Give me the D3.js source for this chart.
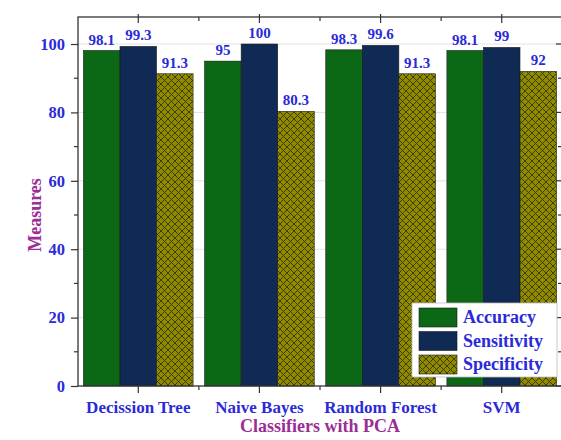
<!DOCTYPE html>
<html><head><meta charset="utf-8">
<script src="https://cdn.jsdelivr.net/npm/d3@7"></script>
<style>body{margin:0;background:#fff}svg{display:block}</style>
</head><body>
<svg id="chart" width="561" height="440"></svg>
<script>
const categories = ["Decission Tree","Naive Bayes","Random Forest","SVM"];
const seriesNames = ["Accuracy","Sensitivity","Specificity"];
const accuracy = [98.1, 95, 98.3, 98.1];
const sensitivity = [99.3, 100, 99.6, 99];
const specificity = [91.3, 80.3, 91.3, 92];
const yTicks = [0,20,40,60,80,100];
const valueLabels = [
  ["98.1","95","98.3","98.1"],
  ["99.3","100","99.6","99"],
  ["91.3","80.3","91.3","92"]
];
const seriesValues = [accuracy, sensitivity, specificity];

const svg = d3.select("#chart");
const L = 78, R = 562, T = 17, B = 386;
const blue = "#2a2ad8", purple = "#9a2d96";
const fills = ["url(#pGreen)","url(#pNavy)","url(#pOlive)"];
const FF = "Liberation Serif";

const defs = svg.append("defs");
function pat(id, bg, dot){
  const p = defs.append("pattern").attr("id",id).attr("patternUnits","userSpaceOnUse")
    .attr("width",4).attr("height",4);
  p.append("rect").attr("width",4).attr("height",4).attr("fill",bg);
  p.append("rect").attr("x",0).attr("y",0).attr("width",1).attr("height",1).attr("fill",dot);
  p.append("rect").attr("x",2).attr("y",2).attr("width",1).attr("height",1).attr("fill",dot);
  return p;
}
pat("pGreen","#0c6a16","#0a5a12");
pat("pNavy","#102b55","#0c2246");
const po = defs.append("pattern").attr("id","pOlive").attr("patternUnits","userSpaceOnUse").attr("width",7).attr("height",7);
po.append("rect").attr("width",7).attr("height",7).attr("fill","#8f8b00");
po.append("path").attr("d","M0,0L7,7M7,0L0,7").attr("stroke","#3a3600").attr("stroke-width",0.9).attr("fill","none");

const x0 = d3.scaleBand().domain(categories).range([L,R]).paddingInner(0.095).paddingOuter(0.045);
const x1 = d3.scaleBand().domain(seriesNames).range([0,x0.bandwidth()]);
const y = d3.scaleLinear().domain([0,107.9]).range([B,T]);

// grid
svg.append("g").selectAll("line").data(yTicks.filter(d=>d>0)).join("line")
  .attr("x1",L).attr("x2",R).attr("y1",d=>y(d)).attr("y2",d=>y(d))
  .attr("stroke","#e2e2e2").attr("stroke-width",1);

// bars
const g = svg.append("g");
seriesNames.forEach((s,si)=>{
  g.selectAll(null).data(categories).join("rect")
    .attr("x",c=>x0(c)+x1(s)).attr("width",x1.bandwidth())
    .attr("y",(c,i)=>y(seriesValues[si][i])).attr("height",(c,i)=>B-y(seriesValues[si][i]))
    .attr("fill",fills[si]).attr("stroke","#1a1a1a").attr("stroke-width",0.6);
  g.selectAll(null).data(categories).join("text")
    .attr("x",c=>x0(c)+x1(s)+x1.bandwidth()/2)
    .attr("y",(c,i)=>y(seriesValues[si][i])-6)
    .attr("text-anchor","middle").attr("font-family",FF).attr("font-weight","bold")
    .attr("font-size",15).attr("fill",blue).text((c,i)=>valueLabels[si][i]);
});

// frame
svg.append("rect").attr("x",L).attr("y",T).attr("width",R-L).attr("height",B-T)
  .attr("fill","none").attr("stroke","#333").attr("stroke-width",1.3);

// left axis
const yAxis = d3.axisLeft(y).tickValues(yTicks).tickSize(7).tickPadding(6);
const ya = svg.append("g").attr("transform",`translate(${L},0)`).call(yAxis);
ya.select(".domain").remove();
ya.selectAll("line").attr("stroke","#333").attr("stroke-width",1.2);
ya.selectAll("text").attr("font-family",FF).attr("font-weight","bold").attr("font-size",16.5).attr("fill",blue);
const minorY = [10,30,50,70,90];
svg.append("g").selectAll("line").data(minorY).join("line")
  .attr("x1",L-4).attr("x2",L).attr("y1",d=>y(d)).attr("y2",d=>y(d)).attr("stroke","#333").attr("stroke-width",1.2);
// right axis ticks inward
svg.append("g").selectAll("line").data(yTicks.concat(minorY)).join("line")
  .attr("x1",d=>R-(yTicks.includes(d)?6:4)).attr("x2",R).attr("y1",d=>y(d)).attr("y2",d=>y(d)).attr("stroke","#333").attr("stroke-width",1.2);

// bottom axis
const xAxis = d3.axisBottom(x0).tickSize(7);
const xa = svg.append("g").attr("transform",`translate(0,${B})`).call(xAxis);
xa.select(".domain").remove();
xa.selectAll("line").attr("stroke","#333").attr("stroke-width",1.2);
xa.selectAll("text").attr("y",27).attr("dy","0").attr("font-family",FF).attr("font-weight","bold").attr("font-size",17).attr("fill",blue);
const bounds = categories.slice(1).map(c=>x0(c)-x0.step()*x0.paddingInner()/2);
svg.append("g").selectAll("line").data(bounds).join("line")
  .attr("x1",d=>d).attr("x2",d=>d).attr("y1",B).attr("y2",B+4).attr("stroke","#333").attr("stroke-width",1.2);
// top ticks
svg.append("g").selectAll("line").data(categories).join("line")
  .attr("x1",c=>x0(c)+x0.bandwidth()/2).attr("x2",c=>x0(c)+x0.bandwidth()/2).attr("y1",T-3).attr("y2",T+6).attr("stroke","#333").attr("stroke-width",1.2);
svg.append("g").selectAll("line").data(bounds).join("line")
  .attr("x1",d=>d).attr("x2",d=>d).attr("y1",T).attr("y2",T+4).attr("stroke","#333").attr("stroke-width",1.2);

// axis titles
svg.append("text").attr("x",(L+R)/2).attr("y",432).attr("text-anchor","middle")
  .attr("font-family",FF).attr("font-weight","bold").attr("font-size",18).attr("fill",purple)
  .text("Classifiers with PCA");
svg.append("text").attr("transform","translate(41,215) rotate(-90)").attr("text-anchor","middle")
  .attr("font-family",FF).attr("font-weight","bold").attr("font-size",18).attr("fill",purple)
  .text("Measures");

// legend
const lg = svg.append("g").attr("transform","translate(412,303)");
lg.append("rect").attr("width",145).attr("height",74).attr("fill","#fff").attr("stroke","#bbb").attr("stroke-width",0.8);
seriesNames.forEach((s,i)=>{
  lg.append("rect").attr("x",7).attr("y",5+i*23.5).attr("width",38).attr("height",19)
    .attr("fill",fills[i]).attr("stroke","#1a1a1a").attr("stroke-width",0.6);
  lg.append("text").attr("x",51).attr("y",20+i*23.5).attr("font-family",FF)
    .attr("font-weight","bold").attr("font-size",18).attr("fill",blue).text(s);
});
</script>
</body></html>
